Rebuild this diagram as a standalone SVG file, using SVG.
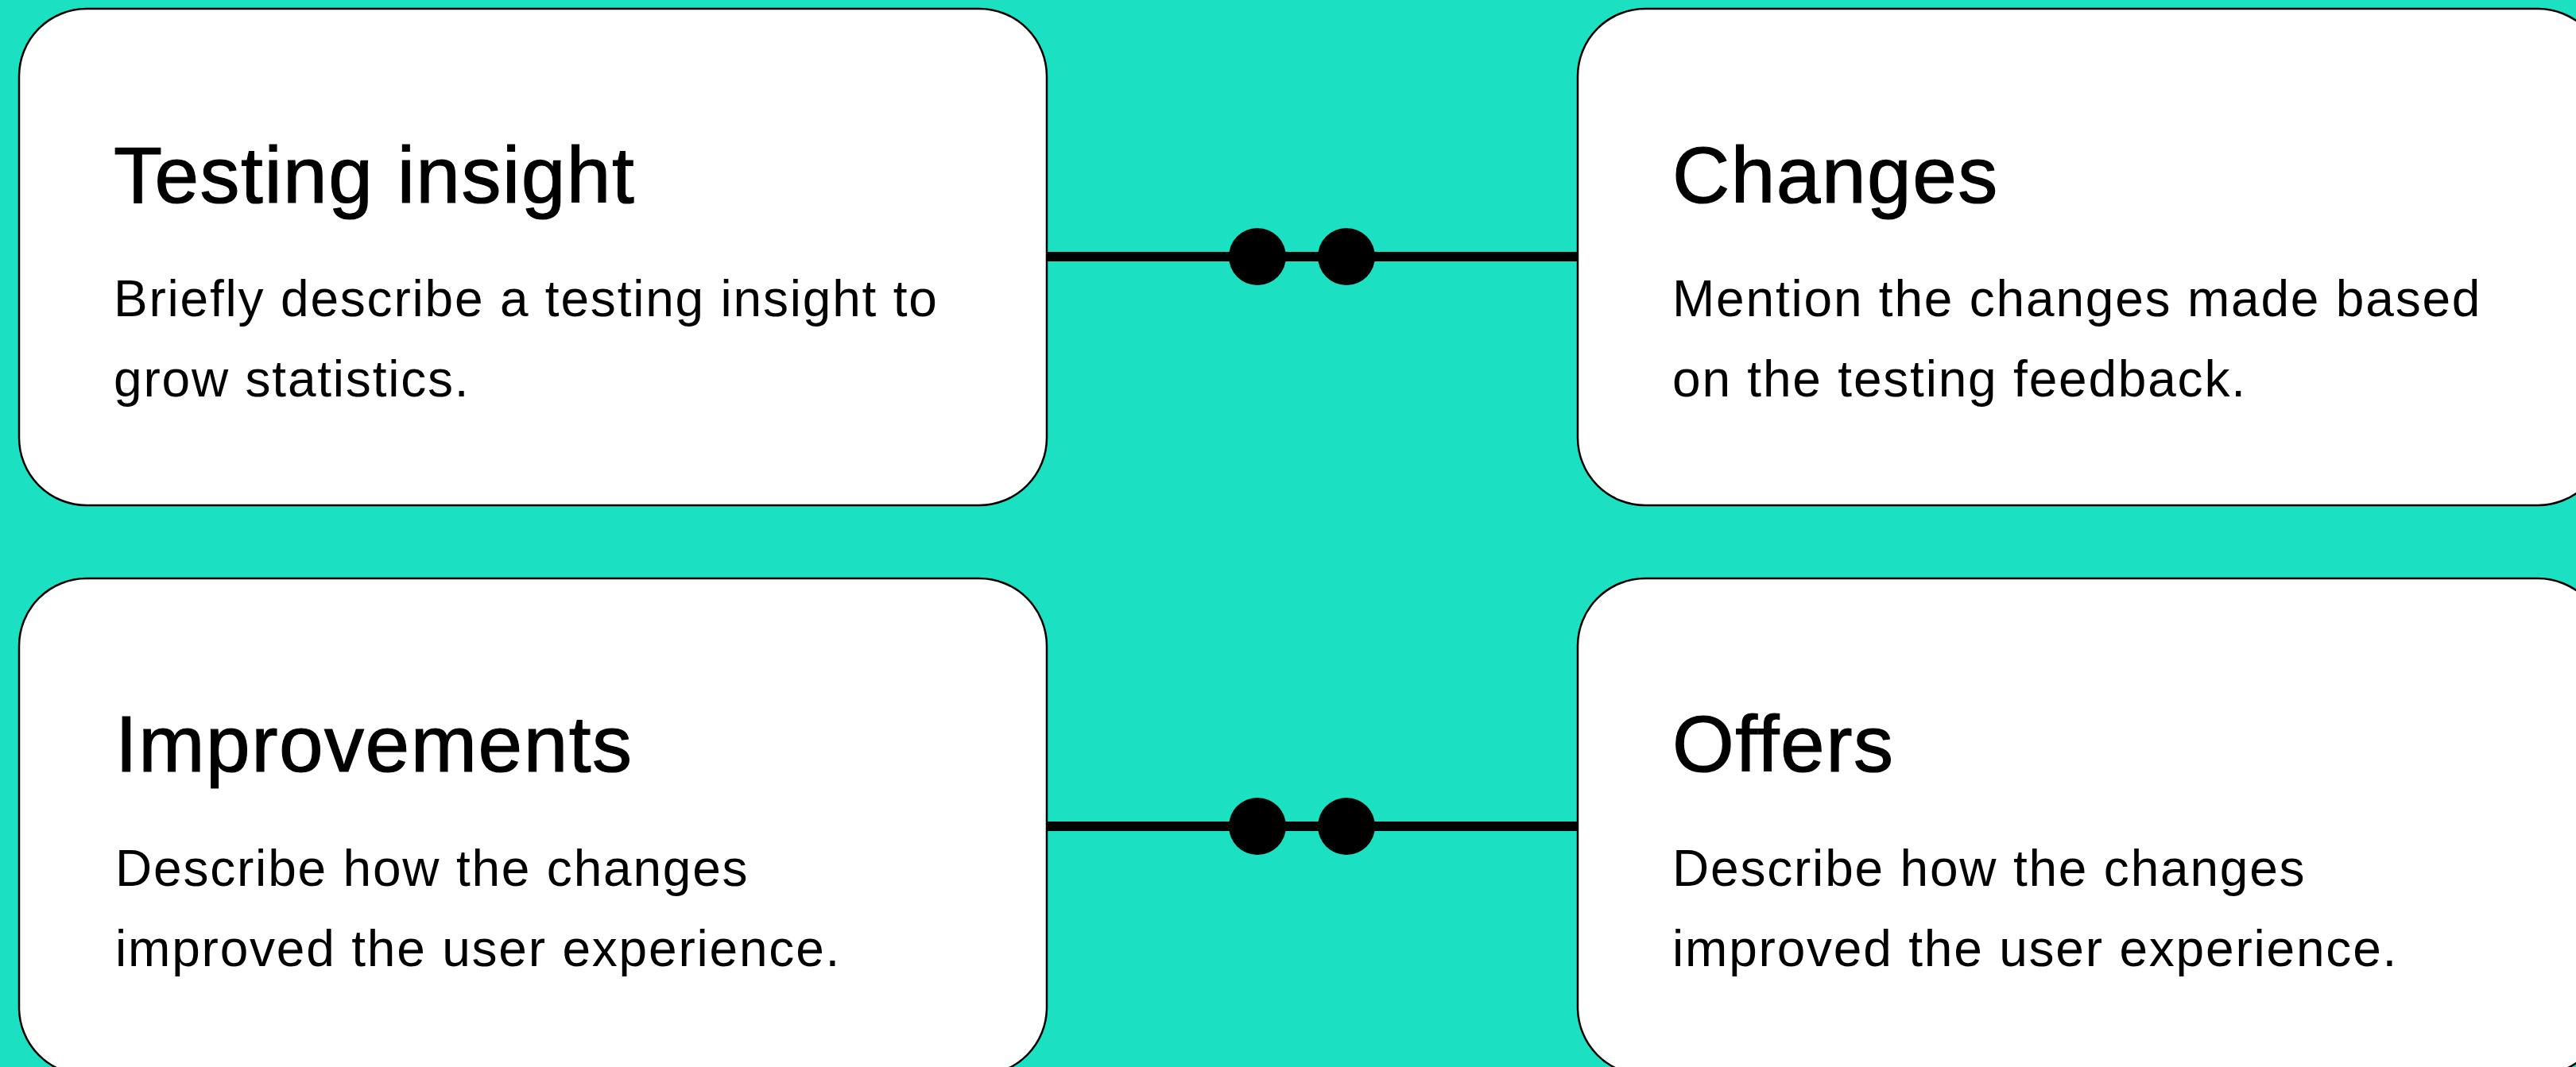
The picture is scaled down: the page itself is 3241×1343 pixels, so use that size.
<svg xmlns="http://www.w3.org/2000/svg" width="3241" height="1343" viewBox="0 0 3241 1343">
<style>
.box{fill:#ffffff;stroke:#000000;stroke-width:2.5}
.title{font-family:"Liberation Sans",Arial,sans-serif;font-size:100px;fill:#000;stroke:#000;stroke-width:1.2;letter-spacing:1.5px}
.body{font-family:"Liberation Sans",Arial,sans-serif;font-size:64px;fill:#000;letter-spacing:1.8px}
.line{stroke:#000;stroke-width:12;fill:none}
.dot{fill:#000}
</style>
<rect width="3241" height="1343" fill="#1BE0C1"/>
<g id="connectors">
<line class="line" x1="1317" y1="323" x2="1985" y2="323"/>
<circle class="dot" cx="1582" cy="323" r="36"/>
<circle class="dot" cx="1694" cy="323" r="36"/>
<line class="line" x1="1317" y1="1040" x2="1985" y2="1040"/>
<circle class="dot" cx="1582" cy="1040" r="36"/>
<circle class="dot" cx="1694" cy="1040" r="36"/>
</g>
<g id="testing-insight">
<rect class="box" x="24" y="11" width="1293" height="625" rx="85" ry="85"/>
<text class="title" x="143" y="255">Testing insight</text>
<text class="body" x="143" y="398">Briefly describe a testing insight to</text>
<text class="body" x="143" y="499">grow statistics.</text>
</g>
<g id="changes">
<rect class="box" x="1985" y="11" width="1293" height="625" rx="85" ry="85"/>
<text class="title" x="2104" y="255">Changes</text>
<text class="body" x="2104" y="398">Mention the changes made based</text>
<text class="body" x="2104" y="499">on the testing feedback.</text>
</g>
<g id="improvements">
<rect class="box" x="24" y="728" width="1293" height="625" rx="85" ry="85"/>
<text class="title" x="145" y="971">Improvements</text>
<text class="body" x="145" y="1115">Describe how the changes</text>
<text class="body" x="145" y="1216">improved the user experience.</text>
</g>
<g id="offers">
<rect class="box" x="1985" y="728" width="1293" height="625" rx="85" ry="85"/>
<text class="title" x="2104" y="971">Offers</text>
<text class="body" x="2104" y="1115">Describe how the changes</text>
<text class="body" x="2104" y="1216">improved the user experience.</text>
</g>
</svg>
